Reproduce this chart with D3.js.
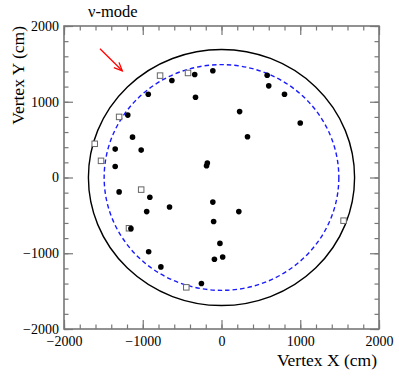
<!DOCTYPE html>
<html>
<head>
<meta charset="utf-8">
<script src="https://cdn.jsdelivr.net/npm/d3@7"></script>
<style>
body { margin: 0; background: #fff; }
text { font-family: "Liberation Serif", "Times New Roman", serif; }
</style>
</head>
<body>
<div id="chart"></div>
<script>
// reconstructed vertices (cm)
var dotX = [-340, -110, -630, -930, -330, -1190, -1130, -1350, -1020, -1350, -180, -190,
	580, 600, 800, 230, 1000, 330, -1300, -910, -950, -660, -110, -100, -1150, -20,
	-925, -90, 15, -770, -255, 220];
var dotY = [1360, 1410, 1280, 1100, 1060, 824, 533, 375, 362, 145, 190, 155,
	1350, 1210, 1100, 870, 720, 537, -190, -260, -450, -390, -325, -580, -675, -870,
	-980, -1080, -1050, -1180, -1400, -450];
var boxX = [-780, -425, -1300, -1610, -1530, -1020, -1175, -447, 1550];
var boxY = [1345, 1380, 800, 445, 220, -160, -670, -1450, -570];

var radii = [1690, 1490]; // ID wall, fiducial
var arrowFrom = [-1543, 1699];
var arrowTo = [-1260, 1409];

var majorTicks = [-2000, -1000, 0, 1000, 2000];
var minorTicks = d3.range(-2000, 2001, 200);

var W = 399, H = 384;
var axisColor = "#777";

var svg = d3.select("#chart").append("svg")
	.attr("width", W)
	.attr("height", H);

var x = d3.scaleLinear().domain([-2000, 2000]).range([64, 379]);
var y = d3.scaleLinear().domain([-2000, 2000]).range([329, 26]);

// circles
svg.append("ellipse")
	.attr("cx", x(0)).attr("cy", y(0))
	.attr("rx", x(radii[0]) - x(0)).attr("ry", y(0) - y(radii[0]))
	.attr("fill", "none").attr("stroke", "#000").attr("stroke-width", 1.4);
svg.append("ellipse")
	.attr("cx", x(0)).attr("cy", y(0))
	.attr("rx", x(radii[1]) - x(0)).attr("ry", y(0) - y(radii[1]))
	.attr("fill", "none").attr("stroke", "#1a1aff").attr("stroke-width", 1.4)
	.attr("stroke-dasharray", "4.5,3");

// open squares
var bs = 5.5;
svg.selectAll(".box")
	.data(d3.range(boxX.length))
	.enter().append("rect")
	.attr("class", "box")
	.attr("x", function(i) { return x(boxX[i]) - bs / 2; })
	.attr("y", function(i) { return y(boxY[i]) - bs / 2; })
	.attr("width", bs).attr("height", bs)
	.attr("fill", "#fff").attr("stroke", "#666").attr("stroke-width", 1);

// filled dots
svg.selectAll(".dot")
	.data(d3.range(dotX.length))
	.enter().append("circle")
	.attr("class", "dot")
	.attr("cx", function(i) { return x(dotX[i]); })
	.attr("cy", function(i) { return y(dotY[i]); })
	.attr("r", 2.8)
	.attr("fill", "#000");

// arrow
var ax1 = x(arrowFrom[0]), ay1 = y(arrowFrom[1]);
var ax2 = x(arrowTo[0]), ay2 = y(arrowTo[1]);
var ang = Math.atan2(ay2 - ay1, ax2 - ax1);
var hl = 9, ha = 0.42;
svg.append("line")
	.attr("x1", ax1).attr("y1", ay1).attr("x2", ax2).attr("y2", ay2)
	.attr("stroke", "#f00").attr("stroke-width", 1.3);
svg.append("path")
	.attr("d", "M" + (ax2 - hl * Math.cos(ang - ha)) + "," + (ay2 - hl * Math.sin(ang - ha)) +
		"L" + ax2 + "," + ay2 +
		"L" + (ax2 - hl * Math.cos(ang + ha)) + "," + (ay2 - hl * Math.sin(ang + ha)))
	.attr("fill", "none").attr("stroke", "#f00").attr("stroke-width", 1.3);

// axes
function styleAxis(g) {
	g.select(".domain").remove();
	g.attr("font-family", null).attr("font-size", null);
	g.selectAll("line").attr("stroke", axisColor).attr("stroke-width", 1.2);
	g.selectAll("text").attr("fill", "#000").style("font-size", "14px")
		.style("font-family", "'Liberation Serif', 'Times New Roman', serif");
}

svg.append("g").attr("transform", "translate(0," + y(-2000) + ")")
	.call(d3.axisBottom(x).tickValues(minorTicks).tickSize(-4.5).tickFormat(""))
	.call(styleAxis);
svg.append("g").attr("transform", "translate(0," + y(-2000) + ")")
	.call(d3.axisBottom(x).tickValues(majorTicks).tickSize(-9).tickPadding(7).tickFormat(d3.format("d")))
	.call(styleAxis);
svg.append("g").attr("transform", "translate(0," + y(2000) + ")")
	.call(d3.axisTop(x).tickValues(minorTicks).tickSize(-4.5).tickFormat(""))
	.call(styleAxis);
svg.append("g").attr("transform", "translate(0," + y(2000) + ")")
	.call(d3.axisTop(x).tickValues(majorTicks).tickSize(-9).tickFormat(""))
	.call(styleAxis);

svg.append("g").attr("transform", "translate(" + x(-2000) + ",0)")
	.call(d3.axisLeft(y).tickValues(minorTicks).tickSize(-4.5).tickFormat(""))
	.call(styleAxis);
svg.append("g").attr("transform", "translate(" + x(-2000) + ",0)")
	.call(d3.axisLeft(y).tickValues(majorTicks).tickSize(-9).tickPadding(5).tickFormat(d3.format("d")))
	.call(styleAxis);
svg.append("g").attr("transform", "translate(" + x(2000) + ",0)")
	.call(d3.axisRight(y).tickValues(minorTicks).tickSize(-4.5).tickFormat(""))
	.call(styleAxis);
svg.append("g").attr("transform", "translate(" + x(2000) + ",0)")
	.call(d3.axisRight(y).tickValues(majorTicks).tickSize(-9).tickFormat(""))
	.call(styleAxis);

// frame
svg.append("rect")
	.attr("x", x(-2000)).attr("y", y(2000))
	.attr("width", x(2000) - x(-2000)).attr("height", y(-2000) - y(2000))
	.attr("fill", "none").attr("stroke", axisColor).attr("stroke-width", 1.6);

// labels
svg.append("text").attr("x", 88).attr("y", 17)
	.style("font-size", "16.5px").text("ν-mode");
svg.append("text").attr("x", 377).attr("y", 366)
	.attr("text-anchor", "end").style("font-size", "17.5px").text("Vertex X (cm)");
svg.append("text")
	.attr("transform", "translate(24," + 26 + ") rotate(-90)")
	.attr("text-anchor", "end").style("font-size", "17.5px").text("Vertex Y (cm)");
</script>
</body>
</html>
